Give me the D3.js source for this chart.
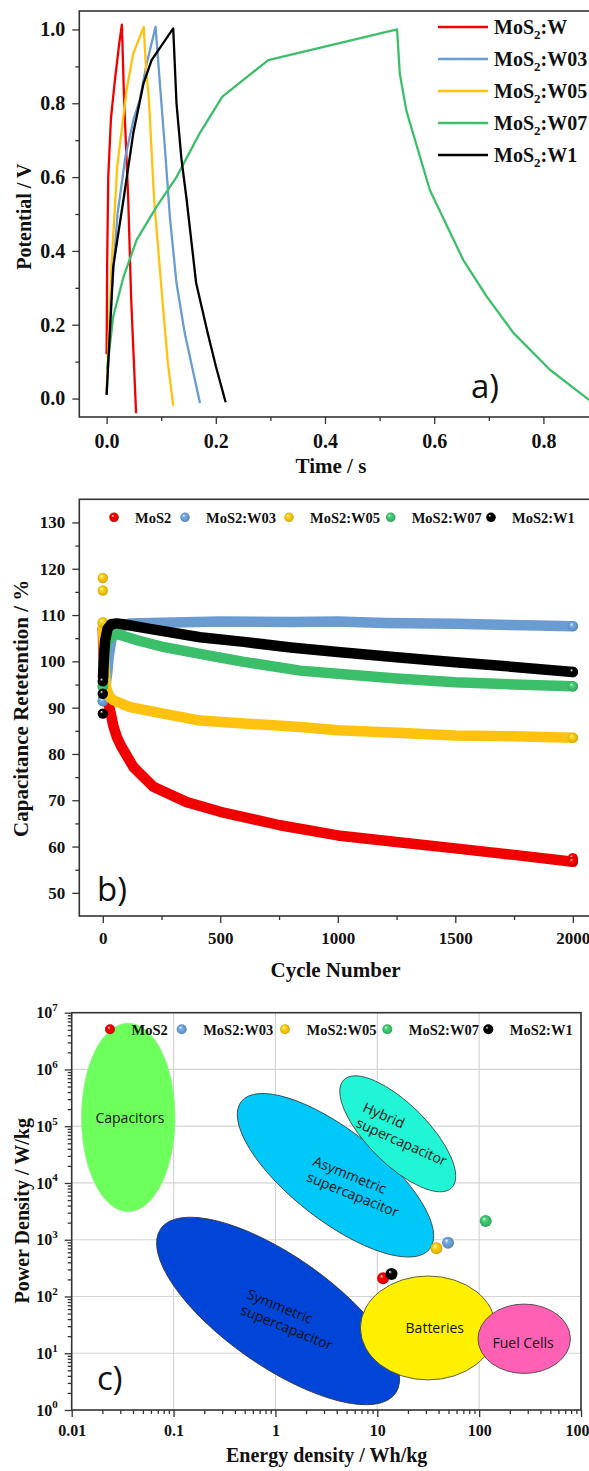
<!DOCTYPE html>
<html>
<head>
<meta charset="utf-8">
<script src="https://cdn.jsdelivr.net/npm/d3@7"></script>
<style>
  body { margin: 0; background: #fff; }
  .tick text { font-family: "Liberation Serif", "Times New Roman", serif; font-weight: bold; fill: #111; }
  .tick line { stroke: #333; stroke-width: 1.3; }
</style>
</head>
<body>
<div id="chart"></div>
<script>
// ------ Data ---------------//
const gcdNames = ["W", "W03", "W05", "W07", "W1"];          // legend a) -> "MoS2:" + name
const retNames = ["MoS2", "MoS2:W03", "MoS2:W05", "MoS2:W07", "MoS2:W1"];
const colors = ["#f00000", "#6a9bd1", "#ffc20e", "#3cbf6b", "#000000"];

// a) charge / discharge, [time s, potential V]
const gcdW   = [[0,0.12],[0.001,0.36],[0.003,0.6],[0.008,0.76],[0.015,0.86],[0.023,0.96],[0.028,1.013],[0.032,0.81],[0.0396,0.54],[0.045,0.27],[0.054,-0.04]];
const gcdW03 = [[0,0.01],[0.01,0.3],[0.02,0.5],[0.035,0.66],[0.05,0.76],[0.061,0.81],[0.0733,0.907],[0.0897,1.007],[0.0976,0.854],[0.107,0.674],[0.116,0.49],[0.128,0.313],[0.143,0.178],[0.159,0.069],[0.171,-0.012]];
const gcdW05 = [[0,0.02],[0.009,0.36],[0.0195,0.63],[0.0366,0.836],[0.0488,0.935],[0.068,1.007],[0.072,0.9],[0.0775,0.81],[0.087,0.54],[0.102,0.27],[0.112,0.1],[0.122,-0.02]];
const gcdW07 = [[0.001,0.08],[0.0122,0.223],[0.031,0.33],[0.055,0.43],[0.0916,0.52],[0.128,0.6],[0.171,0.72],[0.212,0.818],[0.296,0.917],[0.532,1.0],[0.537,0.88],[0.549,0.78],[0.592,0.565],[0.653,0.376],[0.696,0.277],[0.745,0.178],[0.812,0.078],[0.883,-0.003],[0.9,-0.02]];
const gcdW1  = [[0,0.01],[0.0122,0.358],[0.031,0.54],[0.049,0.72],[0.0677,0.854],[0.0824,0.917],[0.122,1.003],[0.128,0.8],[0.137,0.65],[0.1465,0.54],[0.164,0.313],[0.185,0.178],[0.2,0.088],[0.218,-0.01]];
const gcdSeries = [gcdW, gcdW03, gcdW05, gcdW07, gcdW1];

// b) capacitance retention, [cycle, %]
const retW   = [[0,107],[2,103],[5,99],[10,95],[20,91.5],[31,89.4],[45,86],[60,83.6],[80,81.5],[130,77.2],[215,72.9],[357,69.6],[500,67.5],[754,64.6],[1000,62.4],[1250,61],[1500,59.6],[1750,58.2],[2000,56.7]];
const retW03 = [[0,91.4],[10,94],[20,98],[25,101],[38,105],[60,107],[116,108.2],[300,108.4],[500,108.6],[800,108.5],[1000,108.6],[1200,108.3],[1500,108.1],[1800,107.8],[2000,107.6]];
const retW05 = [[0,108.4],[5,102],[10,97],[15,94],[30,92.3],[45,91.6],[116,90.1],[258,88.7],[414,87.2],[600,86.6],[840,85.8],[1000,85.1],[1250,84.6],[1500,84],[1750,83.8],[2000,83.5]];
const retW07 = [[0,94.5],[3,97],[6,100],[10,102.5],[20,104.5],[40,105.5],[60,105.9],[150,104.5],[250,103.2],[414,101.6],[600,99.9],[840,98],[1000,97.3],[1250,96.3],[1500,95.5],[1750,95],[2000,94.6]];
const retW1  = [[1,96.5],[2,98],[4,100],[6,102],[10,104.5],[20,107],[35,108],[60,108.2],[100,107.9],[200,107],[414,105.2],[600,104.2],[800,103],[1000,102],[1250,100.9],[1500,99.8],[1750,98.8],[2000,97.7]];
const retSeries = [retW, retW03, retW05, retW07, retW1];
// single marked cycles (separate balls)
const retDotsW   = [[0,107],[2000,57.5]];
const retDotsW03 = [[0,91.4]];
const retDotsW05 = [[0,118],[0,115.3],[0,108.4]];
const retDotsW07 = [[0,94.5]];
const retDotsW1  = [[0,88.7],[0,93],[0,95.7]];
const retDots = [retDotsW, retDotsW03, retDotsW05, retDotsW07, retDotsW1];

// c) Ragone plot
const energyDensity = [11.4, 49.5, 38.1, 116, 13.8];   // Wh/kg
const powerDensity  = [209, 887, 707, 2140, 249];       // W/kg

const regionLabels = [["Capacitors"], ["Symmetric", "supercapacitor"], ["Asymmetric", "supercapacitor"], ["Hybrid", "supercapacitor"], ["Batteries"], ["Fuel Cells"]];
const regionAxisStart = [[0.0359, 6.52e6], [0.0748, 1566], [0.462, 2.72e5], [4.69, 6.56e5], [6.83, 27.9], [97.5, 18.0]];
const regionAxisEnd   = [[0.0359, 3120], [15.1, 1.97], [32.7, 687], [53.8, 8230], [145.5, 27.9], [787, 18.0]];
const regionWidth     = [0.496, 0.383, 0.376, 0.393, 0.768, 0.751];
const regionLabelAt   = [[0.0373, 1.47e5], [0.513, 94], [2.29, 2.07e4], [7.05, 1.86e5], [36.7, 28.7], [270, 16.0]];
const regionLabelAngle = [0, 22, 22, 24, 0, 0];
const regionFill = ["#6dff5c", "#0044d8", "#00c8f8", "#20f5d5", "#fff000", "#ff60b4"];

// ------ Preliminaries ---------------//
const W = 589, H = 1471;
const serif = '"Liberation Serif", "Times New Roman", serif';
const sans = '"Open Sans", "Noto Sans", sans-serif';

const svg = d3.select("#chart").append("svg")
  .attr("width", W).attr("height", H);

const defs = svg.append("defs");
colors.forEach((c, i) => {
  const gr = defs.append("radialGradient").attr("id", "ball" + i)
    .attr("cx", "50%").attr("cy", "50%").attr("r", "55%").attr("fx", "35%").attr("fy", "30%");
  gr.append("stop").attr("offset", "0%").attr("stop-color", "#fff");
  gr.append("stop").attr("offset", "28%").attr("stop-color", d3.color(c).brighter(0.3));
  gr.append("stop").attr("offset", "100%").attr("stop-color", i === 4 ? "#000" : d3.color(c).darker(0.5));
});

function frame(g, x, y) {
  g.append("rect")
    .attr("x", x.range()[0]).attr("y", y.range()[1])
    .attr("width", x.range()[1] - x.range()[0])
    .attr("height", y.range()[0] - y.range()[1])
    .attr("fill", "none").attr("stroke", "#333").attr("stroke-width", 1.6);
}

function minor(g, axis, vals, size) {
  g.append("g").call(axis.tickValues(vals).tickSize(size).tickFormat("").tickSizeOuter(0))
    .call(s => s.select(".domain").remove());
}

function panelLabel(text, x, y) {
  svg.append("text").attr("x", x).attr("y", y)
    .attr("font-family", sans).attr("font-size", 33).attr("fill", "#111").text(text);
}

// ------ Panel a ---------------//
{
  const x = d3.scaleLinear().domain([-0.05, 0.9]).range([79.3, 598]);
  const y = d3.scaleLinear().domain([-0.05, 1.05]).range([417, 11]);
  const g = svg.append("g");

  const line = d3.line().x(d => x(d[0])).y(d => y(d[1]));
  gcdSeries.forEach((s, i) => {
    g.append("path").datum(s).attr("d", line)
      .attr("fill", "none").attr("stroke", colors[i]).attr("stroke-width", 2.3)
      .attr("stroke-linejoin", "round");
  });

  frame(g, x, y);

  const xa = g.append("g").attr("transform", `translate(0,${y.range()[0]})`);
  xa.append("g").call(d3.axisBottom(x).tickValues([0, 0.2, 0.4, 0.6, 0.8]).tickFormat(d3.format(".1f")).tickSize(7).tickPadding(10))
    .call(s => s.select(".domain").remove())
    .selectAll("text").attr("font-size", 20);
  minor(xa, d3.axisBottom(x), [0.1, 0.3, 0.5, 0.7], 4);

  const ya = g.append("g").attr("transform", `translate(${x.range()[0]},0)`);
  ya.append("g").call(d3.axisLeft(y).tickValues([0, 0.2, 0.4, 0.6, 0.8, 1.0]).tickFormat(d3.format(".1f")).tickSize(7).tickPadding(7))
    .call(s => s.select(".domain").remove())
    .selectAll("text").attr("font-size", 20);
  minor(ya, d3.axisLeft(y), [0.1, 0.3, 0.5, 0.7, 0.9], 4);

  g.append("text").attr("transform", "translate(31,216.7) rotate(-90)")
    .attr("text-anchor", "middle").attr("font-family", serif).attr("font-weight", "bold")
    .attr("font-size", 20).attr("fill", "#111").text("Potential / V");
  g.append("text").attr("x", 331).attr("y", 473)
    .attr("text-anchor", "middle").attr("font-family", serif).attr("font-weight", "bold")
    .attr("font-size", 21).attr("fill", "#111").text("Time / s");

  // legend
  gcdNames.forEach((n, i) => {
    const cy = 27 + i * 32;
    g.append("line").attr("x1", 438).attr("x2", 488).attr("y1", cy).attr("y2", cy)
      .attr("stroke", colors[i]).attr("stroke-width", 2.5);
    const t = g.append("text").attr("x", 494).attr("y", cy + 7)
      .attr("font-family", serif).attr("font-weight", "bold").attr("font-size", 20).attr("fill", "#111");
    t.append("tspan").text("MoS");
    t.append("tspan").attr("font-size", 13).attr("dy", 5).text("2");
    t.append("tspan").attr("dy", -5).text(":" + n);
  });

  panelLabel("a)", 471, 398);
}

// ------ Panel b ---------------//
{
  const x = d3.scaleLinear().domain([-100, 2100]).range([79.3, 596.3]);
  const y = d3.scaleLinear().domain([45, 135]).range([916, 499.3]);
  const g = svg.append("g");

  const line = d3.line().x(d => x(d[0])).y(d => y(d[1]));
  retSeries.forEach((s, i) => {
    g.append("path").datum(s).attr("d", line)
      .attr("fill", "none").attr("stroke", colors[i]).attr("stroke-width", 10.5)
      .attr("stroke-linejoin", "round").attr("stroke-linecap", "round");
    const dots = retDots[i].concat([s[s.length - 1]]);
    g.selectAll(null).data(dots).join("circle")
      .attr("cx", d => x(d[0])).attr("cy", d => y(d[1])).attr("r", 5.2)
      .attr("fill", `url(#ball${i})`);
  });

  frame(g, x, y);

  const xa = g.append("g").attr("transform", `translate(0,${y.range()[0]})`);
  xa.append("g").call(d3.axisBottom(x).tickValues([0, 500, 1000, 1500, 2000]).tickFormat(d3.format("d")).tickSize(7).tickPadding(9))
    .call(s => s.select(".domain").remove())
    .selectAll("text").attr("font-size", 17);
  minor(xa, d3.axisBottom(x), [250, 750, 1250, 1750], 4);

  const ya = g.append("g").attr("transform", `translate(${x.range()[0]},0)`);
  ya.append("g").call(d3.axisLeft(y).tickValues(d3.range(50, 131, 10)).tickFormat(d3.format("d")).tickSize(7).tickPadding(7))
    .call(s => s.select(".domain").remove())
    .selectAll("text").attr("font-size", 17);
  minor(ya, d3.axisLeft(y), d3.range(55, 130, 10), 4);

  g.append("text").attr("transform", "translate(28,708.3) rotate(-90)")
    .attr("text-anchor", "middle").attr("font-family", serif).attr("font-weight", "bold")
    .attr("font-size", 21).attr("fill", "#111").text("Capacitance Retetention / %");
  g.append("text").attr("x", 335.5).attr("y", 977)
    .attr("text-anchor", "middle").attr("font-family", serif).attr("font-weight", "bold")
    .attr("font-size", 21).attr("fill", "#111").text("Cycle Number");

  const legendX = [114, 185, 289, 390.7, 491];
  retNames.forEach((n, i) => {
    g.append("circle").attr("cx", legendX[i]).attr("cy", 517.3).attr("r", 4.8).attr("fill", `url(#ball${i})`);
    g.append("text").attr("x", legendX[i] + 21).attr("y", 522.5)
      .attr("font-family", serif).attr("font-weight", "bold").attr("font-size", 14.5).attr("fill", "#111").text(n);
  });

  panelLabel("b)", 97, 900.5);
}

// ------ Panel c ---------------//
{
  const x = d3.scaleLog().domain([0.01, 1000]).range([71.7, 581]);
  const y = d3.scaleLog().domain([1, 1e7]).range([1410, 1012.7]);
  const g = svg.append("g");

  // grid
  g.append("g").selectAll("line").data([0.1, 1, 10, 100]).join("line")
    .attr("x1", d => x(d)).attr("x2", d => x(d)).attr("y1", y.range()[0]).attr("y2", y.range()[1])
    .attr("stroke", "#d4d4d4").attr("stroke-width", 1.2);
  g.append("g").selectAll("line").data([10, 1e2, 1e3, 1e4, 1e5, 1e6]).join("line")
    .attr("y1", d => y(d)).attr("y2", d => y(d)).attr("x1", x.range()[0]).attr("x2", x.range()[1])
    .attr("stroke", "#d4d4d4").attr("stroke-width", 1.2);

  // regions
  regionLabels.forEach((lab, i) => {
    const p1 = [x(regionAxisStart[i][0]), y(regionAxisStart[i][1])];
    const p2 = [x(regionAxisEnd[i][0]), y(regionAxisEnd[i][1])];
    const cx = (p1[0] + p2[0]) / 2, cy = (p1[1] + p2[1]) / 2;
    const a = Math.hypot(p2[0] - p1[0], p2[1] - p1[1]) / 2;
    const ang = Math.atan2(p2[1] - p1[1], p2[0] - p1[0]) * 180 / Math.PI;
    g.append("ellipse").attr("cx", cx).attr("cy", cy).attr("rx", a).attr("ry", a * regionWidth[i])
      .attr("transform", `rotate(${ang},${cx},${cy})`)
      .attr("fill", regionFill[i]).attr("stroke", i === 0 ? "#8fef80" : "#3a3a3a").attr("stroke-width", 0.8);
  });
  regionLabels.forEach((lab, i) => {
    const lx = x(regionLabelAt[i][0]), ly = y(regionLabelAt[i][1]);
    const multi = lab.length > 1;
    const t = g.append("text").attr("transform", `translate(${lx},${ly}) rotate(${regionLabelAngle[i]})`)
      .attr("font-family", sans).attr("font-size", 14).attr("fill", "#111")
      .attr("text-anchor", multi ? "start" : "middle")
      .attr("dominant-baseline", multi ? "auto" : "central");
    lab.forEach((l, k) => t.append("tspan").attr("x", 0).attr("dy", k === 0 ? 0 : 17).text(l));
  });

  // points
  energyDensity.forEach((e, i) => {
    g.append("circle").attr("cx", x(e)).attr("cy", y(powerDensity[i])).attr("r", 6)
      .attr("fill", `url(#ball${i})`);
  });

  frame(g, x, y);

  const minorVals = (lo, hi) => d3.range(lo, hi).flatMap(e => d3.range(2, 10).map(m => m * Math.pow(10, e)));
  const xa = g.append("g").attr("transform", `translate(0,${y.range()[0]})`);
  xa.append("g").call(d3.axisBottom(x).tickValues([0.01, 0.1, 1, 10, 100, 1000]).tickFormat(d => d >= 1 ? d3.format("d")(d) : String(d)).tickSize(7).tickPadding(8))
    .call(s => s.select(".domain").remove())
    .selectAll("text").attr("font-size", 16);
  minor(xa, d3.axisBottom(x), minorVals(-2, 3), 4);

  const ya = g.append("g").attr("transform", `translate(${x.range()[0]},0)`);
  ya.append("g").call(d3.axisLeft(y).tickValues(d3.range(0, 8).map(e => Math.pow(10, e))).tickSize(7).tickPadding(7))
    .call(s => s.select(".domain").remove())
    .selectAll("text").attr("font-size", 16)
    .each(function(d) {
      const t = d3.select(this).text(null);
      t.append("tspan").text("10");
      t.append("tspan").attr("font-size", 11).attr("dy", "-0.65em").text(Math.round(Math.log10(d)));
    });
  minor(ya, d3.axisLeft(y), minorVals(0, 7), 4);

  g.append("text").attr("transform", "translate(29,1210.8) rotate(-90)")
    .attr("text-anchor", "middle").attr("font-family", serif).attr("font-weight", "bold")
    .attr("font-size", 20).attr("fill", "#111").text("Power Density / W/kg");
  g.append("text").attr("x", 326.7).attr("y", 1462)
    .attr("text-anchor", "middle").attr("font-family", serif).attr("font-weight", "bold")
    .attr("font-size", 20).attr("fill", "#111").text("Energy density / Wh/kg");

  const legendX = [110, 181.7, 285, 387.3, 488.3];
  retNames.forEach((n, i) => {
    g.append("circle").attr("cx", legendX[i]).attr("cy", 1029.3).attr("r", 5).attr("fill", `url(#ball${i})`);
    g.append("text").attr("x", legendX[i] + 21.5).attr("y", 1034.5)
      .attr("font-family", serif).attr("font-weight", "bold").attr("font-size", 14.5).attr("fill", "#111").text(n);
  });

  panelLabel("c)", 97, 1390);
}
</script>
</body>
</html>
